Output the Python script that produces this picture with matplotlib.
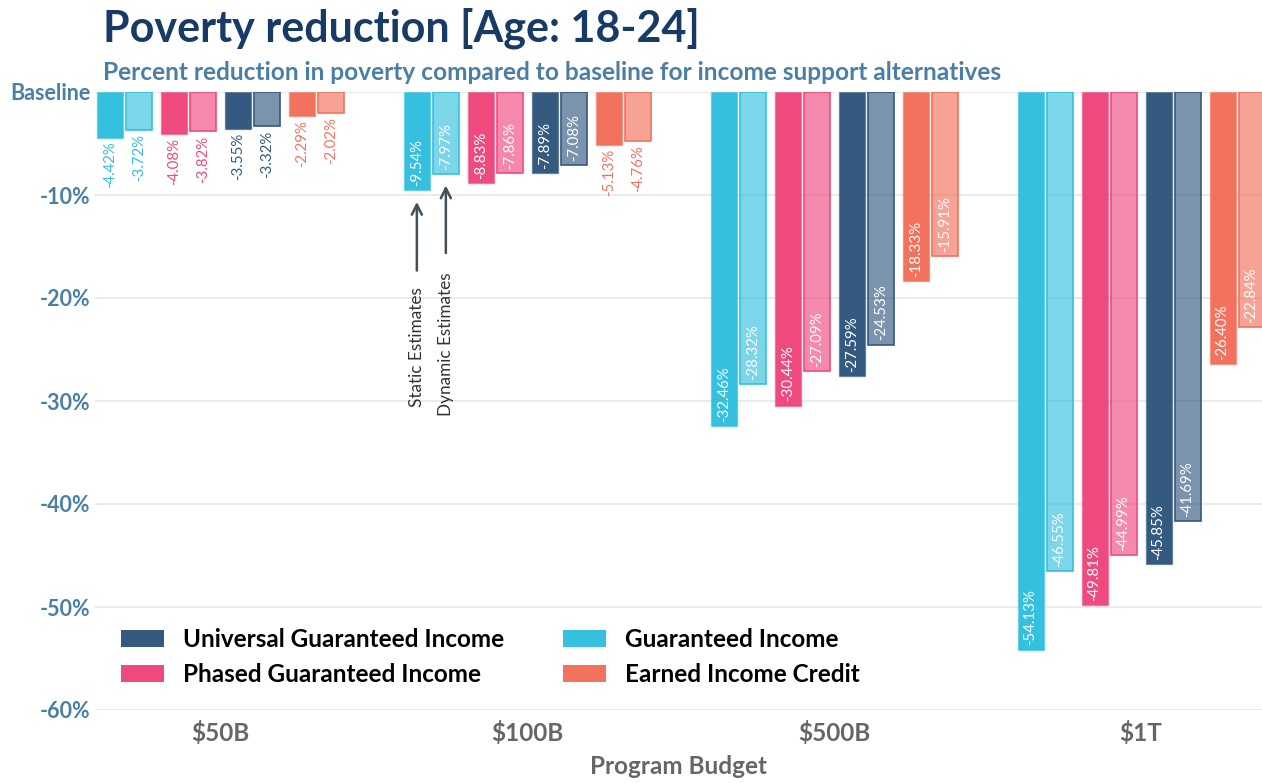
import matplotlib.pyplot as plt
import matplotlib.colors as mcolors
from matplotlib.patches import Patch
import numpy as np

plt.rcParams['font.family'] = ['Lato', 'DejaVu Sans']

budgets = ['$50B', '$100B', '$500B', '$1T']

# static / dynamic estimates per program, one value per budget
gi_static = [-4.42, -9.54, -32.46, -54.13]
gi_dynamic = [-3.72, -7.97, -28.32, -46.55]
pgi_static = [-4.08, -8.83, -30.44, -49.81]
pgi_dynamic = [-3.82, -7.86, -27.09, -44.99]
ugi_static = [-3.55, -7.89, -27.59, -45.85]
ugi_dynamic = [-3.32, -7.08, -24.53, -41.69]
eic_static = [-2.29, -5.13, -18.33, -26.40]
eic_dynamic = [-2.02, -4.76, -15.91, -22.84]

programs = ['Guaranteed Income', 'Phased Guaranteed Income',
            'Universal Guaranteed Income', 'Earned Income Credit']
colors = ['#35C0E0', '#EF4A7E', '#345A80', '#F2725E']
static_vals = [gi_static, pgi_static, ugi_static, eic_static]
dynamic_vals = [gi_dynamic, pgi_dynamic, ugi_dynamic, eic_dynamic]

fig = plt.figure(figsize=(12.62, 7.83), dpi=100)
ax = fig.add_axes([95/1262, 1 - 710/783, 1 - 95/1262, (710-92)/783])

x = np.arange(len(budgets))
px = 306.8  # pixels per category
bw = 26/px
pair_off = np.array([-96, -32, 32, 96])/px
half = 14.5/px

def label(xpos, v, c):
    # inside the bar if it fits, otherwise just below it
    if abs(v) > 6:
        ax.annotate('%.2f%%' % v, (xpos, v), xytext=(0, 3), textcoords='offset points',
                    rotation=90, ha='center', va='bottom', color='white', fontsize=10.8)
    else:
        ax.annotate('%.2f%%' % v, (xpos, v), xytext=(0, -3), textcoords='offset points',
                    rotation=90, ha='center', va='top', color=c, fontsize=10.8)

for i in range(4):
    c = colors[i]
    xs = x + pair_off[i] - half
    xd = x + pair_off[i] + half
    ax.bar(xs, static_vals[i], width=bw, color=c, edgecolor=mcolors.to_rgba(c, 0.5), linewidth=1, zorder=3)
    ax.bar(xd, dynamic_vals[i], width=bw, color=mcolors.to_rgba(c, 0.65), edgecolor=c, linewidth=1.2, zorder=3)
    for j in range(len(budgets)):
        label(xs[j], static_vals[i][j], c)
        label(xd[j], dynamic_vals[i][j], c)

ax.set_xlim(-0.409, 3.394)
ax.set_ylim(-60, 0)
ax.set_yticks([0, -10, -20, -30, -40, -50, -60])
ax.set_yticklabels(['Baseline', '-10%', '-20%', '-30%', '-40%', '-50%', '-60%'],
                   color='#4A7FA5', fontsize=15.5, fontweight='bold')
ax.set_xticks(x)
ax.set_xticklabels(budgets, color='#666666', fontsize=17.5, fontweight='bold')
ax.tick_params(length=0)
ax.tick_params(axis='y', pad=3.5)
ax.tick_params(axis='x', pad=8)
ax.grid(axis='y', color='#e6e6e6', linewidth=1.2, zorder=0)
ax.set_axisbelow(True)
for s in ax.spines.values():
    s.set_visible(False)
ax.set_xlabel('Program Budget', color='#666666', fontsize=17.5, fontweight='bold', labelpad=7)

# arrows pointing at first $100B pair
xs1 = x[1] + pair_off[0] - half
xd1 = x[1] + pair_off[0] + half
ax.annotate('', xy=(xs1, -10.4), xytext=(xs1, -17.6),
            arrowprops=dict(arrowstyle='->', color='#454f57', lw=1.8, mutation_scale=18))
ax.annotate('', xy=(xd1, -8.8), xytext=(xd1, -15.9),
            arrowprops=dict(arrowstyle='->', color='#454f57', lw=1.8, mutation_scale=18))
ax.text(xs1, -18.9, 'Static Estimates', rotation=90, ha='center', va='top',
        fontsize=12.4, color='#333333')
ax.text(xd1, -17.5, 'Dynamic Estimates', rotation=90, ha='center', va='top',
        fontsize=12.3, color='#333333')

handles = [Patch(facecolor=colors[2]), Patch(facecolor=colors[1]),
           Patch(facecolor=colors[0]), Patch(facecolor=colors[3])]
names = [programs[2], programs[1], programs[0], programs[3]]
fig.legend(handles, names, ncol=2, frameon=False, loc='upper left',
           bbox_to_anchor=(99/1262, 1 - 606/783), prop={'weight': 'bold', 'size': 17.5},
           handlelength=1.77, handleheight=0.7, columnspacing=2.4, labelspacing=0.5,
           handletextpad=0.8)

fig.text(103/1262, 1 - 28/783, 'Poverty reduction [Age: 18-24]', fontsize=31, fontweight='bold',
         color='#173B66', va='center')
fig.text(103/1262, 1 - 73/783, 'Percent reduction in poverty compared to baseline for income support alternatives',
         fontsize=17.55, fontweight='bold', color='#4A7FA5', va='center')

fig.savefig('out.png', dpi=100)
